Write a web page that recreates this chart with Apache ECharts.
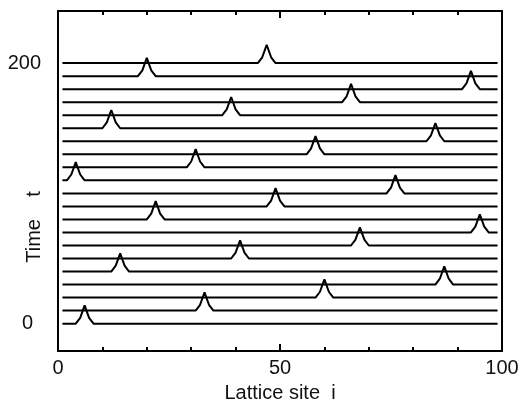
<!DOCTYPE html>
<html>
<head>
<meta charset="utf-8">
<script src="https://cdn.jsdelivr.net/npm/echarts@6/dist/echarts.min.js"></script>
<style>
    html, body { margin: 0; padding: 0; background: #fff; }
    #chart { width: 520px; height: 404px; }
</style>
</head>
<body>
<div id="chart"></div>
<script>
// time of each trace (one horizontal line per step)
var timeSteps = [0, 10, 20, 30, 40, 50, 60, 70, 80, 90, 100, 110, 120, 130, 140, 150, 160, 170, 180, 190, 200];
// lattice site of the pulse on each trace, same order as timeSteps
var pulseSites = [6, 33, 60, 87, 14, 41, 68, 95, 22, 49, 76, 4, 31, 58, 85, 12, 39, 66, 93, 20, 47];
// pulse shape on sites i-2 .. i+2, in units of pulseHeight
var pulseProfile = [0, 0.32, 1, 0.32, 0];
var pulseHeight = 14;
var firstSite = 1, lastSite = 99;
var xTickLabels = [0, 50, 100];
var yTickLabels = [0, 200];

var chart = echarts.init(document.getElementById('chart'));
var font = '"Liberation Sans", Arial, sans-serif';
var ink = '#111';

var traceData = function (t, site) {
    var pts = [];
    for (var i = firstSite; i <= lastSite; ++i) {
        var k = i - site + 2;
        var h = (k >= 0 && k < pulseProfile.length) ? pulseProfile[k] * pulseHeight : 0;
        pts.push([i, t + h]);
    }
    return pts;
};

var series = timeSteps.map(function (t, n) {
    return {
        type: 'line',
        data: traceData(t, pulseSites[n]),
        showSymbol: false,
        silent: true,
        lineStyle: {color: '#000', width: 2},
        xAxisIndex: 0,
        yAxisIndex: 0
    };
});

var xCommon = {
    type: 'value',
    min: 0,
    max: 100,
    interval: 50,
    axisLine: {show: true, onZero: false, lineStyle: {color: '#000', width: 2}},
    axisTick: {show: true, inside: true, length: 7, lineStyle: {color: '#000', width: 2}},
    minorTick: {show: true, splitNumber: 5, length: 4, lineStyle: {color: '#000', width: 2}},
    splitLine: {show: false}
};

var option = {
    animation: false,
    grid: {left: 58, right: 18, top: 11, bottom: 53, containLabel: false, outerBoundsMode: 'none'},
    xAxis: [
        Object.assign({}, xCommon, {
            position: 'bottom',
            name: 'Lattice site  i',
            nameLocation: 'middle',
            nameGap: 32,
            nameMoveOverlap: false,
            nameTextStyle: {fontFamily: font, fontSize: 20, color: ink},
            axisLabel: {
                fontFamily: font, fontSize: 20, color: ink, margin: 7,
                customValues: xTickLabels
            }
        }),
        Object.assign({}, xCommon, {
            position: 'top',
            axisLabel: {show: false}
        })
    ],
    yAxis: [{
        type: 'value',
        min: -21,
        max: 240,
        position: 'left',
        name: 'Time    t',
        nameLocation: 'middle',
        nameGap: 14,
        nameMoveOverlap: false,
        nameTextStyle: {fontFamily: font, fontSize: 20, color: ink, padding: [0, 92, 0, 0]},
        axisLine: {show: true, onZero: false, lineStyle: {color: '#000', width: 2}},
        axisTick: {show: false},
        splitLine: {show: false},
        axisLabel: {
            fontFamily: font, fontSize: 20, color: ink, margin: 17,
            customValues: yTickLabels,
            formatter: function (v) {
                return v === 0 ? '{z|0}' : String(v);
            },
            rich: {z: {fontFamily: font, fontSize: 20, color: ink, padding: [0, 8, 0, 0]}}
        }
    }, {
        type: 'value',
        min: -21,
        max: 240,
        position: 'right',
        axisLine: {show: true, onZero: false, lineStyle: {color: '#000', width: 2}},
        axisTick: {show: false},
        axisLabel: {show: false},
        splitLine: {show: false}
    }],
    series: series
};

chart.setOption(option);
</script>
</body>
</html>
